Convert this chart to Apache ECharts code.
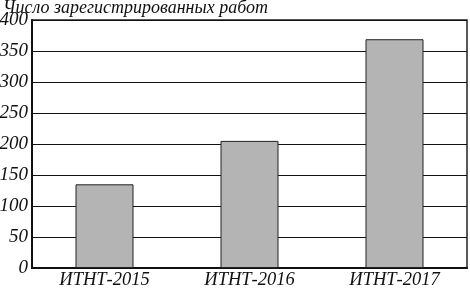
<!DOCTYPE html>
<html><head><meta charset="utf-8">
<script src="https://cdn.jsdelivr.net/npm/echarts@6/dist/echarts.min.js"></script>
<style>html,body{margin:0;padding:0;background:#fff}#c{width:470px;height:288px}</style>
</head><body><div id="c"></div>
<script>
const categories = ["ИТНТ-2015", "ИТНТ-2016", "ИТНТ-2017"];
const values = [135, 205, 369];
const yTitle = "Число зарегистрированных работ";
const font = "'Liberation Serif', 'DejaVu Serif', serif";
const chart = echarts.init(document.getElementById('c'), null, {renderer: 'canvas'});
chart.setOption({
  animation: false,
  backgroundColor: '#fff',
  title: {text: yTitle, left: -2, top: -6, textStyle: {fontFamily: font, fontStyle: 'italic', fontWeight: 'normal', fontSize: 18, color: '#111'}},
  grid: {left: 32, right: 3, top: 20, bottom: 20, show: true, borderColor: '#222', borderWidth: 1.5, backgroundColor: 'transparent', outerBoundsMode: 'none', containLabel: false},
  xAxis: {type: 'category', data: categories,
    axisLine: {show: true, lineStyle: {color: '#111', width: 2}},
    axisTick: {show: false},
    axisLabel: {fontFamily: font, fontStyle: 'italic', fontSize: 18.5, color: '#111', margin: 3}},
  yAxis: {type: 'value', min: 0, max: 400, interval: 50,
    axisLine: {show: true, lineStyle: {color: '#111', width: 2}},
    axisTick: {show: false},
    splitLine: {show: true, lineStyle: {color: '#111', width: 1}},
    axisLabel: {fontFamily: font, fontStyle: 'italic', fontSize: 19, color: '#111', margin: 4}},
  series: [{type: 'bar', data: values, barWidth: 58,
    itemStyle: {color: '#b4b4b4', borderColor: '#222', borderWidth: 1}}]
});
</script></body></html>
